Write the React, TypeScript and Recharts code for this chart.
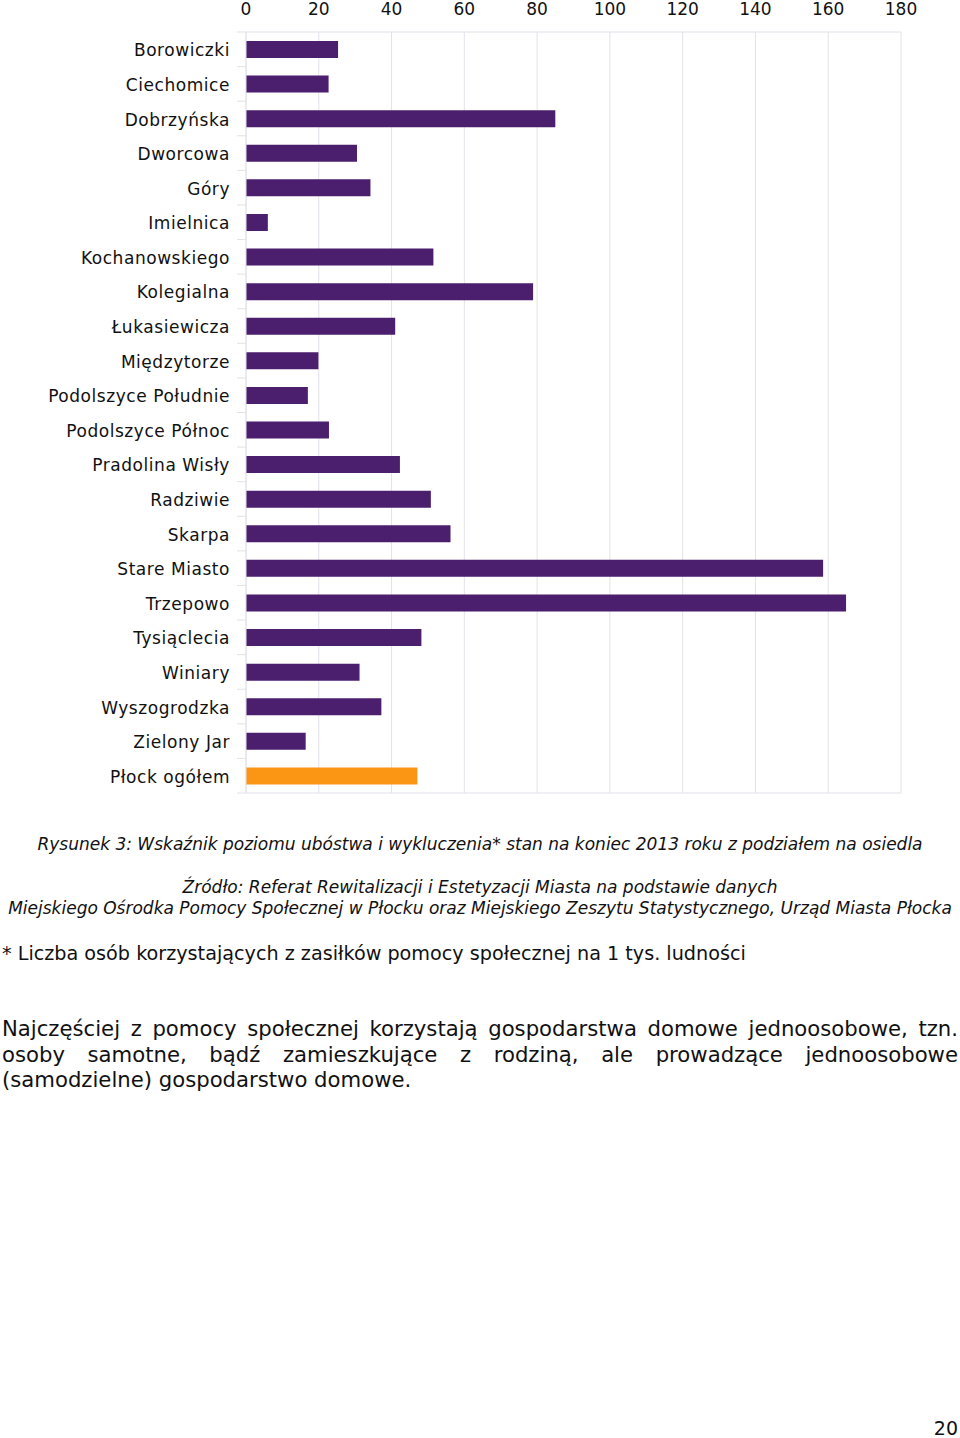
import { Bar, BarChart, CartesianGrid, Cell, XAxis, YAxis } from "recharts"

const osiedla = [
  "Borowiczki",
  "Ciechomice",
  "Dobrzyńska",
  "Dworcowa",
  "Góry",
  "Imielnica",
  "Kochanowskiego",
  "Kolegialna",
  "Łukasiewicza",
  "Międzytorze",
  "Podolszyce Południe",
  "Podolszyce Północ",
  "Pradolina Wisły",
  "Radziwie",
  "Skarpa",
  "Stare Miasto",
  "Trzepowo",
  "Tysiąclecia",
  "Winiary",
  "Wyszogrodzka",
  "Zielony Jar",
  "Płock ogółem",
]

const wskaznik = [
  25.3, 22.7, 85.0, 30.5, 34.2, 6.0, 51.5, 78.9, 41.0, 19.9, 17.0, 22.8, 42.3,
  50.8, 56.2, 158.6, 164.9, 48.2, 31.2, 37.2, 16.4, 47.1,
]

const xTicks = [0, 20, 40, 60, 80, 100, 120, 140, 160, 180]

const PURPLE = "#4b1e6e"
const ORANGE = "#fb9614"
const GRID = "#e2e2ea"

const data = osiedla.map((name, i) => ({ name, value: wskaznik[i] }))

const font = "'DejaVu Sans', Verdana, sans-serif"

// category label plus the small tick at the band boundaries
function CatTick(props: any) {
  const { x, y, payload, index, visibleTicksCount } = props
  const half = payload && payload.offset ? payload.offset : 0
  const isLast = index === visibleTicksCount - 1
  return (
    <g>
      <text
        x={x}
        y={y + 1}
        dy="0.355em"
        textAnchor="end"
        fill="#111"
        fontSize={17}
        fontFamily={font}
        letterSpacing="0.55px"
      >
        {payload.value}
      </text>
      {half > 0 && (
        <line x1={x + 7} x2={x + 16} y1={y - half} y2={y - half} stroke={GRID} />
      )}
      {half > 0 && isLast && (
        <line x1={x + 7} x2={x + 16} y1={y + half} y2={y + half} stroke={GRID} />
      )}
    </g>
  )
}

export default function App() {
  return (
    <div
      style={{
        position: "absolute",
        left: 0,
        top: 0,
        width: 960,
        height: 1438,
        background: "#fff",
        fontFamily: font,
        color: "#111",
      }}
    >
      <BarChart
        width={960}
        height={800}
        data={data}
        layout="vertical"
        margin={{ top: 0, right: 59, bottom: 6, left: 0 }}
        barSize={17}
      >
        <CartesianGrid horizontal={false} stroke={GRID} />
        <XAxis
          type="number"
          orientation="top"
          domain={[0, 180]}
          ticks={xTicks}
          height={32}
          tickLine={false}
          tickSize={0}
          tickMargin={17}
          axisLine={{ stroke: GRID }}
          tick={{ fill: "#111", fontSize: 17, fontFamily: font }}
          interval={0}
        />
        <XAxis
          xAxisId="bottom"
          type="number"
          orientation="bottom"
          domain={[0, 180]}
          height={1}
          tick={false}
          tickLine={false}
          axisLine={{ stroke: GRID }}
        />
        <YAxis
          type="category"
          dataKey="name"
          width={246}
          tickLine={false}
          tickSize={0}
          tickMargin={16}
          axisLine={{ stroke: GRID }}
          tick={<CatTick />}
          interval={0}
        />
        <Bar dataKey="value" isAnimationActive={false}>
          {data.map((d, i) => (
            <Cell key={d.name} fill={i === data.length - 1 ? ORANGE : PURPLE} />
          ))}
        </Bar>
      </BarChart>

      <div
        style={{
          position: "absolute",
          top: 834,
          left: 0,
          width: 960,
          textAlign: "center",
          fontStyle: "italic",
          fontSize: 17,
          lineHeight: "21px",
          whiteSpace: "nowrap",
        }}
      >
        Rysunek 3: Wskaźnik poziomu ubóstwa i wykluczenia* stan na koniec 2013
        roku z podziałem na osiedla
      </div>
      <div
        style={{
          position: "absolute",
          top: 877,
          left: 0,
          width: 960,
          textAlign: "center",
          fontStyle: "italic",
          fontSize: 17,
          lineHeight: "21px",
          whiteSpace: "nowrap",
        }}
      >
        <div>Źródło: Referat Rewitalizacji i Estetyzacji Miasta na podstawie danych</div>
        <div>
          Miejskiego Ośrodka Pomocy Społecznej w Płocku oraz Miejskiego Zeszytu
          Statystycznego, Urząd Miasta Płocka
        </div>
      </div>
      <div
        style={{
          position: "absolute",
          top: 942,
          left: 2,
          fontSize: 19.2,
          lineHeight: "24px",
          whiteSpace: "nowrap",
        }}
      >
        * Liczba osób korzystających z zasiłków pomocy społecznej na 1 tys. ludności
      </div>
      <div
        style={{
          position: "absolute",
          top: 1016,
          left: 2,
          width: 956,
          fontSize: 21.2,
          lineHeight: "25.5px",
        }}
      >
        <div style={{ textAlign: "justify", textAlignLast: "justify", whiteSpace: "nowrap" }}>
          Najczęściej z pomocy społecznej korzystają gospodarstwa domowe jednoosobowe, tzn.
        </div>
        <div style={{ textAlign: "justify", textAlignLast: "justify" }}>
          osoby samotne, bądź zamieszkujące z rodziną, ale prowadzące jednoosobowe
        </div>
        <div>(samodzielne) gospodarstwo domowe.</div>
      </div>
      <div
        style={{
          position: "absolute",
          top: 1416,
          right: 2,
          fontSize: 19,
          lineHeight: "24px",
        }}
      >
        20
      </div>
    </div>
  )
}
